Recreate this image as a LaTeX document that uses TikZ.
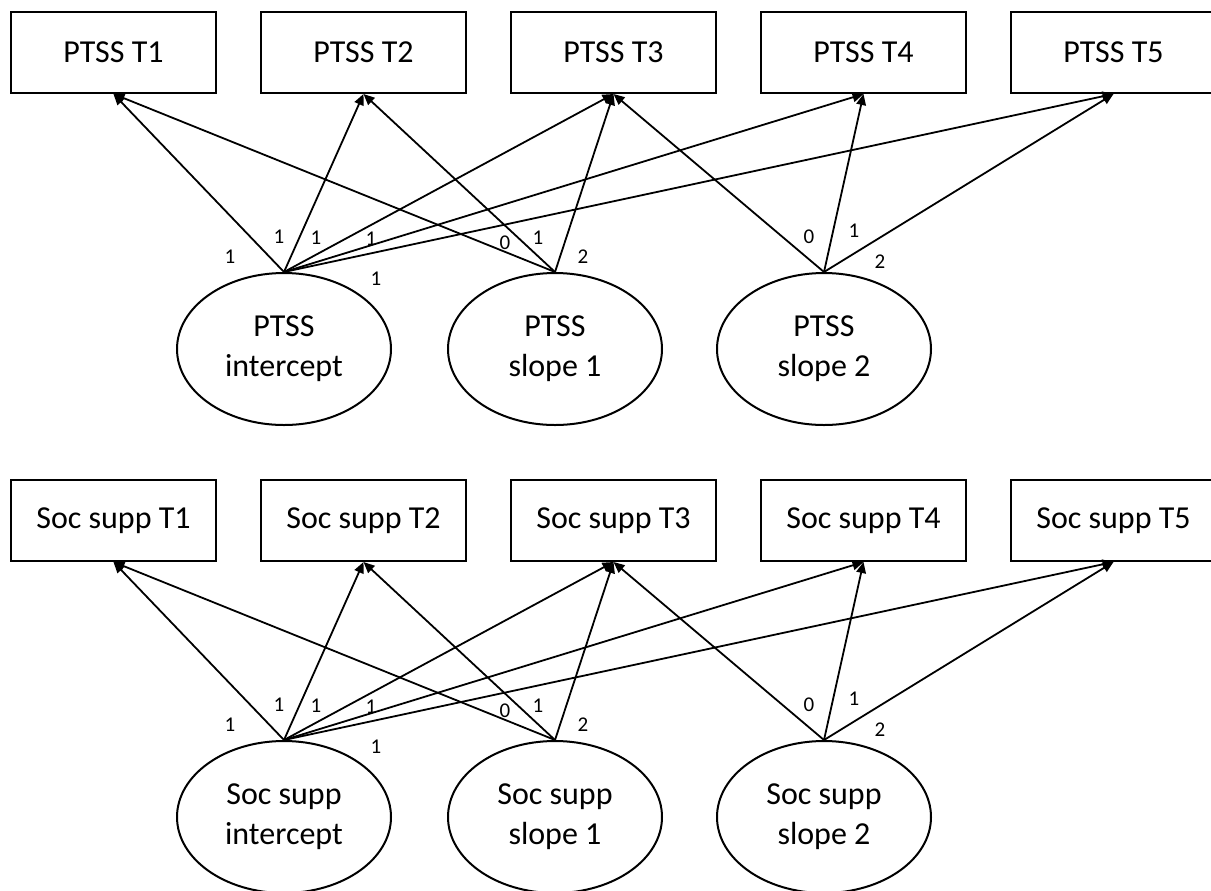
\documentclass[tikz,border=0pt]{standalone}
\usepackage{fontspec}
\setmainfont{Carlito}
\usetikzlibrary{shapes.geometric,arrows.meta}

\tikzset{
  obs/.style={draw,line width=1pt,minimum width=102.5pt,minimum height=40.5pt,
    inner sep=0pt,font=\fontsize{16}{20}\selectfont},
  lat/.style={draw,ellipse,line width=1pt,minimum width=107pt,minimum height=76pt,
    inner sep=0pt,align=center,font=\fontsize{16}{20}\selectfont},
  load/.style={-{Triangle[length=5.5pt,width=4.8pt]},line width=0.9pt},
  wt/.style={font=\fontsize{10.5}{12}\selectfont,inner sep=0pt}
}

% One latent growth block: #1 vertical offset, #2 name prefix,
% #3 indicator label stem, #4 first line of the latent factor labels
\newcommand\growthblock[4]{%
  \begin{scope}[shift={(0,#1)}]
    \foreach \t in {1,...,5}
      \node[obs] (#2T\t) at ({113.5+250*(\t-1)},52.5) {#3 T\t};
    \node[lat] (#2I)  at (284,349) {#4\\intercept};
    \node[lat] (#2S1) at (555,349) {#4\\slope 1};
    \node[lat] (#2S2) at (824,349) {#4\\slope 2};
    % intercept loadings
    \foreach \t in {1,...,5}
      \draw[load] (#2I.north) -- (#2T\t.south);
    % piecewise slope loadings
    \draw[load] (#2S1.north) -- (#2T1.south);
    \draw[load] (#2S1.north) -- (#2T2.south);
    \draw[load] (#2S1.north) -- (#2T3.south);
    \draw[load] (#2S2.north) -- (#2T3.south);
    \draw[load] (#2S2.north) -- (#2T4.south);
    \draw[load] (#2S2.north) -- (#2T5.south);
    % loading values
    \node[wt] (#2wI1) at (230,257) {1};
    \node[wt] (#2wI2) at (279,237) {1};
    \node[wt] (#2wI3) at (316,238) {1};
    \node[wt] (#2wI4) at (371,239) {1};
    \node[wt] (#2wI5) at (376,279) {1};
    \node[wt] (#2wA1) at (505,243) {0};
    \node[wt] (#2wA2) at (538,238) {1};
    \node[wt] (#2wA3) at (583,257) {2};
    \node[wt] (#2wB3) at (809,237) {0};
    \node[wt] (#2wB4) at (854,231) {1};
    \node[wt] (#2wB5) at (880,262) {2};
  \end{scope}}

\begin{document}
\begin{tikzpicture}[x=0.5pt,y=-0.5pt]
  \useasboundingbox (0,0) rectangle (1211,890);
  \growthblock{0}{p}{PTSS}{PTSS}
  \growthblock{468}{s}{Soc supp}{Soc supp}
\end{tikzpicture}
\end{document}
